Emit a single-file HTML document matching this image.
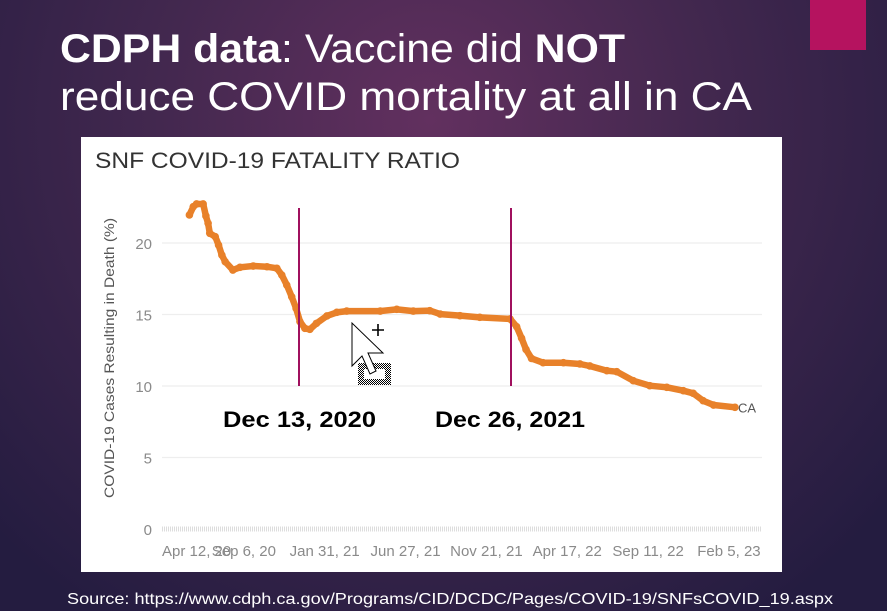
<!DOCTYPE html>
<html><head><meta charset="utf-8"><style>
html,body{margin:0;padding:0;width:887px;height:611px;overflow:hidden;background:#2c2046}
svg{display:block}
text{font-family:"Liberation Sans",sans-serif}
</style></head><body>
<svg id="slide" width="887" height="611" viewBox="0 0 887 611" xmlns="http://www.w3.org/2000/svg">
<defs>
<radialGradient id="bg" cx="430" cy="120" r="600" gradientUnits="userSpaceOnUse">
<stop offset="0" stop-color="#62305f"/><stop offset="0.45" stop-color="#43284f"/><stop offset="1" stop-color="#241c40"/>
</radialGradient>
<pattern id="chk" width="2" height="2" patternUnits="userSpaceOnUse"><rect width="1" height="1" fill="#000"/><rect x="1" y="1" width="1" height="1" fill="#000"/></pattern>
</defs>
<rect width="887" height="611" fill="url(#bg)"/>
<rect x="810" y="0" width="56" height="50" fill="#b5135f"/>
<text x="60" y="62" font-size="40" fill="#fff" textLength="565" lengthAdjust="spacingAndGlyphs"><tspan font-weight="bold">CDPH data</tspan>: Vaccine did <tspan font-weight="bold">NOT</tspan></text>
<text x="60" y="110" font-size="40" fill="#fff" textLength="692" lengthAdjust="spacingAndGlyphs">reduce COVID mortality at all in CA</text>
<rect x="81" y="137" width="701" height="435" fill="#fff"/>
<text x="95" y="168" font-size="22" fill="#333" textLength="365" lengthAdjust="spacingAndGlyphs">SNF COVID-19 FATALITY RATIO</text>
<text transform="translate(114,358) rotate(-90)" text-anchor="middle" font-size="13.5" fill="#555" textLength="280" lengthAdjust="spacingAndGlyphs">COVID-19 Cases Resulting in Death (%)</text>
<g id="grid"></g>
<g id="xaxis"></g>
<g id="series"></g>
<line x1="299" y1="208" x2="299" y2="386" stroke="#a0105e" stroke-width="2"/>
<line x1="511" y1="208" x2="511" y2="386" stroke="#a0105e" stroke-width="2"/>
<text x="223" y="427" font-size="22" font-weight="bold" fill="#000" textLength="153" lengthAdjust="spacingAndGlyphs">Dec 13, 2020</text>
<text x="435" y="427" font-size="22" font-weight="bold" fill="#000" textLength="150" lengthAdjust="spacingAndGlyphs">Dec 26, 2021</text>
<g>
<rect x="358" y="363" width="33" height="22" fill="url(#chk)"/>
<rect x="364" y="369" width="21" height="10" fill="#fff"/>
<polygon points="352,323 352,366 362,356 370,374 376,371 368,353 383,353" fill="#fff" stroke="#000" stroke-width="1"/>
<path d="M378 324v12M372 330h12" stroke="#000" stroke-width="1.6"/>
</g>
<text x="67" y="604" font-size="16" fill="#fff" textLength="766" lengthAdjust="spacingAndGlyphs">Source: https://www.cdph.ca.gov/Programs/CID/DCDC/Pages/COVID-19/SNFsCOVID_19.aspx</text>
</svg>
<script>
// days since Apr 12, 2020
const days = [48,55,61,73,78,82,85,95,101,107,113,127,140,164,189,207,216,225,234,242,249,258,267,279,298,316,334,395,425,455,485,504,540,576,631,643,652,660,670,691,728,758,776,807,825,855,885,916,946,964,982,1001,1040];
const ratio = [21.96,22.54,22.73,22.73,21.89,21.38,20.68,20.44,19.86,19.16,18.69,18.11,18.30,18.39,18.34,18.23,17.76,17.06,16.24,15.43,14.50,14.03,13.96,14.38,14.90,15.15,15.24,15.24,15.36,15.24,15.27,15.03,14.92,14.80,14.69,14.15,13.34,12.56,11.93,11.63,11.63,11.54,11.40,11.07,11.00,10.37,10.02,9.91,9.67,9.49,8.97,8.67,8.51];
const yTicks = [0,5,10,15,20];
const xTickLabels = ["Apr 12, 20","Sep 6, 20","Jan 31, 21","Jun 27, 21","Nov 21, 21","Apr 17, 22","Sep 11, 22","Feb 5, 23"];
const xTickDays = [0,147,294,441,588,735,882,1029];

const NS = "http://www.w3.org/2000/svg";
const xs = d => 163 + d * 0.55;
const ys = v => 529 - v * 14.3;
function mk(tag, attrs, parent){const e=document.createElementNS(NS,tag);for(const k in attrs)e.setAttribute(k,attrs[k]);parent.appendChild(e);return e;}

const grid = document.getElementById('grid');
yTicks.forEach(t=>{
  if(t>0){
    const gl = mk('line',{x1:162,x2:762,y1:ys(t),y2:ys(t),stroke:'#eeeeee','stroke-width':1.2},grid);
    
    
  }
  const lb = mk('text',{x:152,y:ys(t)+6,'text-anchor':'end','font-size':15,fill:'#8a8a8a'},grid);
  lb.textContent = t;
  
  
});
const xa = document.getElementById('xaxis');
const ax = mk('line',{x1:162,x2:762,y1:529,y2:529,stroke:'#dddddd','stroke-width':5,'stroke-dasharray':'1 1'},xa);


xTickLabels.forEach((s,i)=>{
  const first = i===0;
  const t = mk('text',{x:first?162:xs(xTickDays[i]),y:556,'text-anchor':first?'start':'middle','font-size':15,fill:'#8a8a8a'},xa);
  t.textContent = s;
  
  
});
const sg = document.getElementById('series');
const pts = days.map((d,i)=>xs(d).toFixed(1)+','+ys(ratio[i]).toFixed(1)).join(' ');
const pl = mk('polyline',{points:pts,fill:'none',stroke:'#e8812a','stroke-width':6.5,'stroke-linejoin':'round','stroke-linecap':'round'},sg);


days.forEach((d,i)=>{
  const c = mk('circle',{cx:xs(d),cy:ys(ratio[i]),r:3.8,fill:'#e8812a'},sg);
  
  
});
const last = days.length-1;
const ca = mk('text',{x:xs(days[last])+3,y:ys(ratio[last])+5,'font-size':13,fill:'#555'},sg);
ca.textContent = 'CA';


</script>
</body></html>
